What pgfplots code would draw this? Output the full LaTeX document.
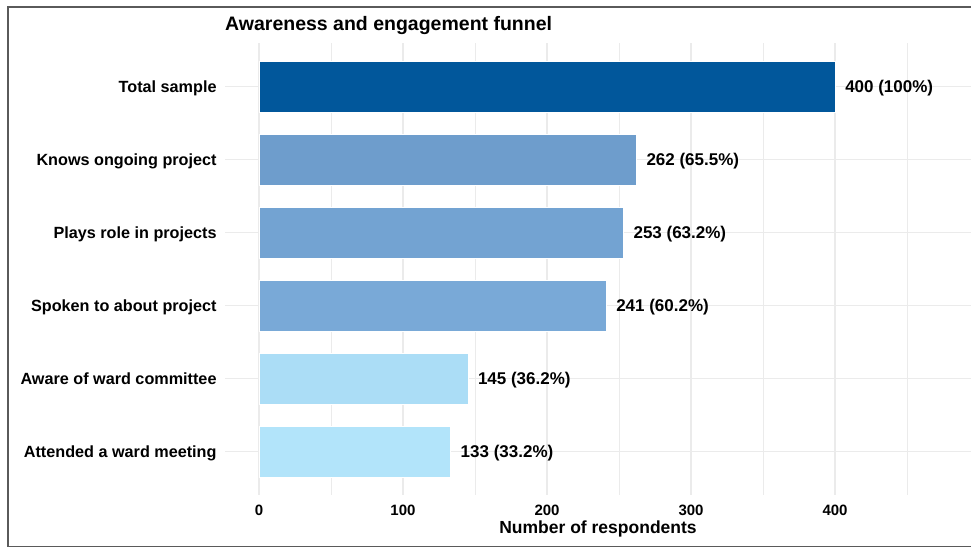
\documentclass[border=0pt]{standalone}
\usepackage{pgfplots}
\pgfplotsset{compat=1.18}
\usepackage{fontspec}
\setmainfont{Liberation Sans}
\definecolor{cA}{HTML}{01579B}
\definecolor{cB}{HTML}{6E9DCC}
\definecolor{cC}{HTML}{73A3D2}
\definecolor{cD}{HTML}{79A9D7}
\definecolor{cE}{HTML}{ABDDF6}
\definecolor{cF}{HTML}{B2E4FA}
\definecolor{gridc}{HTML}{EBEBEB}
\definecolor{framec}{HTML}{5A5A5A}
\begin{document}
\begin{tikzpicture}[x=1pt,y=1pt]
\useasboundingbox (0,0) rectangle (971,548);
\begin{axis}[
  at={(225pt,53pt)}, anchor=south west,
  scale only axis, width=746pt, height=452pt,
  xmin=-23.6, xmax=494.4, ymin=0.4, ymax=6.6,
  xbar, bar width=51pt, bar shift=0pt,
  xtick={0,100,200,300,400},
  minor xtick={50,150,250,350,450},
  ytick={1,2,3,4,5,6},
  yticklabels={Attended a ward meeting, Aware of ward committee, Spoken to about project, Plays role in projects, Knows ongoing project, Total sample},
  grid=both,
  major grid style={color=gridc, line width=1.3pt},
  minor grid style={color=gridc, line width=0.9pt},
  axis line style={draw=none},
  tick style={draw=none},
  /pgf/number format/assume math mode=true,
  xticklabel style={font=\fontsize{15}{18}\selectfont\bfseries, anchor=north, inner sep=0pt, yshift=-10pt},
  yticklabel style={font=\fontsize{16.2}{19}\selectfont\bfseries, anchor=base east, inner sep=0pt, xshift=-4pt, yshift=-5.8pt},
  xlabel={Number of respondents},
  xlabel style={at={(axis description cs:0.5,0)}, anchor=base, yshift=-39pt, font=\fontsize{17.5}{21}\selectfont\bfseries, inner sep=0pt},
  nodes near coords,
  point meta=explicit symbolic,
  every node near coord/.append style={font=\fontsize{17}{20}\selectfont\bfseries, anchor=base west, inner sep=0pt, xshift=10pt, yshift=-6.1pt, color=black},
  clip=false,
]
\addplot[fill=cA, draw=white, line width=0.4pt] coordinates {(400,6) [400 (100\%)]};
\addplot[fill=cB, draw=white, line width=0.4pt] coordinates {(262,5) [262 (65.5\%)]};
\addplot[fill=cC, draw=white, line width=0.4pt] coordinates {(253,4) [253 (63.2\%)]};
\addplot[fill=cD, draw=white, line width=0.4pt] coordinates {(241,3) [241 (60.2\%)]};
\addplot[fill=cE, draw=white, line width=0.4pt] coordinates {(145,2) [145 (36.2\%)]};
\addplot[fill=cF, draw=white, line width=0.4pt] coordinates {(133,1) [133 (33.2\%)]};
\end{axis}
\node[anchor=base west, inner sep=0pt, font=\fontsize{19.5}{23}\selectfont\bfseries] at (225,517) {Awareness and engagement funnel};
\draw[framec, line width=1.5pt] (990,541) -- (8,541) -- (8,1.5) -- (990,1.5);
\end{tikzpicture}
\end{document}
